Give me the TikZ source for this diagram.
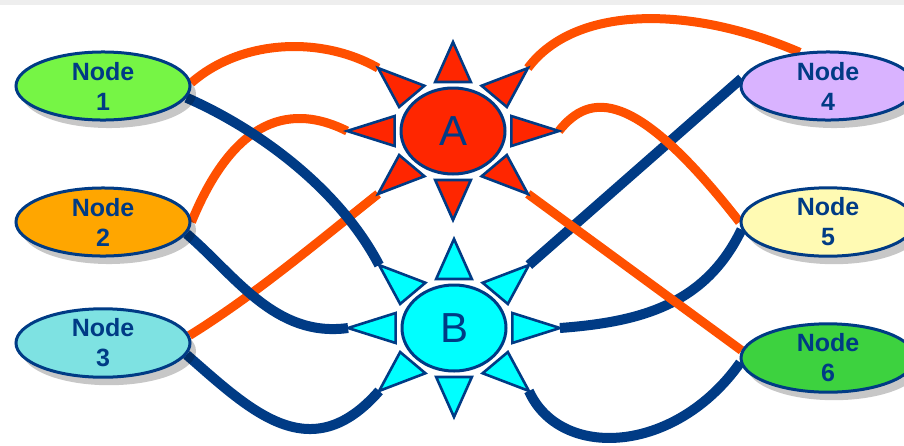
\documentclass[tikz,border=0pt]{standalone}
\usepackage{fontspec}
\setmainfont{Liberation Sans}
\usetikzlibrary{backgrounds,shadows,shapes.geometric}
\definecolor{LinkBlue}{HTML}{003B85}
\definecolor{LinkOrange}{HTML}{FF5000}
\definecolor{TopBand}{HTML}{EEEEEE}
\definecolor{NodeLime}{HTML}{76F545}
\definecolor{NodeAmber}{HTML}{FFA600}
\definecolor{NodeTeal}{HTML}{7EE2E2}
\definecolor{NodeLilac}{HTML}{D9B3FF}
\definecolor{NodeCream}{HTML}{FFFAB3}
\definecolor{NodeGreen}{HTML}{3DD23F}
\definecolor{SunRed}{HTML}{FF2600}
\definecolor{SunCyan}{HTML}{00FFFF}
\tikzset{
  member/.style={ellipse,draw=LinkBlue,line width=3pt,minimum width=174pt,minimum height=68pt,inner sep=0pt,align=center,text=LinkBlue,font=\fontsize{25}{30}\selectfont\bfseries,drop shadow={shadow xshift=6pt,shadow yshift=-8pt,opacity=0.22,fill=black}},
  hub/.style={ellipse,draw=LinkBlue,line width=3pt,minimum width=104pt,minimum height=86pt,inner sep=0pt,text=LinkBlue,font=\fontsize{42}{42}\selectfont},
  ray/.style={draw=LinkBlue,line width=2.6pt},
  redlink/.style={draw=LinkOrange,line width=9pt},
  bluelink/.style={draw=LinkBlue,line width=10pt}
}
\begin{document}
\begin{tikzpicture}[x=1pt,y=-1pt]
  \useasboundingbox (0,0) rectangle (904,445);
  \fill[TopBand] (0,0) rectangle (904,5);
  \node[member,fill=NodeLime] (n1) at (103,86) {Node\\1};
  \node[member,fill=NodeAmber] (n2) at (103,222) {Node\\2};
  \node[member,fill=NodeTeal] (n3) at (103,343) {Node\\3};
  \node[member,fill=NodeLilac] (n4) at (828,86) {Node\\4};
  \node[member,fill=NodeCream] (n5) at (828,222) {Node\\5};
  \node[member,fill=NodeGreen] (n6) at (828,358) {Node\\6};
  \node[hub,fill=SunRed] (A) at (453,131) {A};
  \node[hub,fill=SunCyan] (B) at (454,328) {B};
  \foreach \hub/\col in {A/SunRed,B/SunCyan}
    \foreach \ang/\dir in {0/e,45/ne,90/n,135/nw,180/w,225/sw,270/s,315/se}{
      \begin{scope}[shift={(\hub)},xscale=1.19,rotate=\ang]
        \draw[ray,fill=\col] (49,-15) -- (89,0) -- (49,15) -- cycle;
        \coordinate (\hub-\dir) at (89,0);
      \end{scope}
    }
  \begin{scope}[on background layer]
    % left side: orange under blue
    \draw[redlink] (n1.2) .. controls (240,40) and (320,35) .. (A-nw);
    \draw[redlink] (n2.east) .. controls (225,140) and (275,95) .. (A-w);
    \draw[redlink] (n3.5) .. controls (255,295) and (320,240) .. (A-sw);
    \draw[bluelink] (n1.352) .. controls (260,130) and (340,190) .. (B-nw);
    \draw[bluelink] (n2.352) .. controls (235,275) and (275,338) .. (B-w);
    \draw[bluelink] (n3.352) .. controls (250,410) and (310,470) .. (B-sw);
    % right side: blue under orange
    \draw[bluelink] (n4.175) -- (B-ne);
    \draw[bluelink] (n5.185) .. controls (705,305) and (640,322) .. (B-e);
    \draw[bluelink] (n6.183) .. controls (675,455) and (560,460) .. (B-se);
    \draw[redlink] (n4.130) .. controls (690,5) and (575,5) .. (A-ne);
    \draw[redlink] (n5.west) .. controls (635,88) and (590,92) .. (A-e);
    \draw[redlink] (n6.175) -- (A-se);
  \end{scope}
\end{tikzpicture}
\end{document}
